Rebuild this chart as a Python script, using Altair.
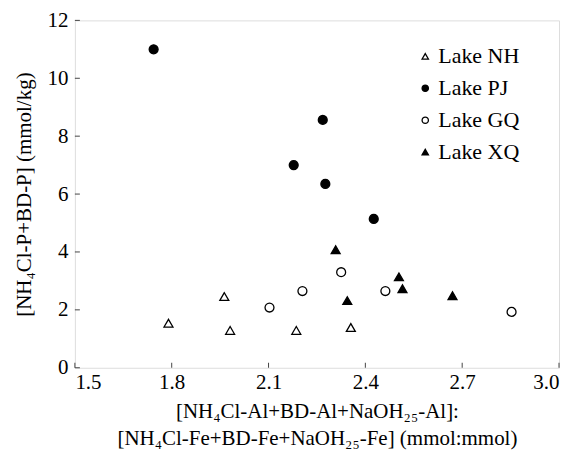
import altair as alt
import pandas as pd

lakes = ["Lake NH", "Lake PJ", "Lake GQ", "Lake XQ"]

nh_x = [1.790, 1.963, 1.981, 2.186, 2.355]
nh_y = [1.54, 2.46, 1.29, 1.29, 1.39]

pj_x = [1.744, 2.268, 2.178, 2.276, 2.426]
pj_y = [11.0, 8.56, 7.00, 6.35, 5.14]

gq_x = [2.103, 2.205, 2.325, 2.462, 2.853]
gq_y = [2.08, 2.65, 3.30, 2.65, 1.93]

xq_x = [2.308, 2.344, 2.504, 2.515, 2.670]
xq_y = [4.08, 2.32, 3.14, 2.73, 2.49]

x_ticks = [1.5, 1.8, 2.1, 2.4, 2.7, 3.0]
y_ticks = [0, 2, 4, 6, 8, 10, 12]

rows = []
for name, xs, ys in zip(lakes, [nh_x, pj_x, gq_x, xq_x], [nh_y, pj_y, gq_y, xq_y]):
    for a, b in zip(xs, ys):
        rows.append({"lake": name, "x": a, "y": b})
df = pd.DataFrame(rows)

W, H = 485, 348
FONT = "Liberation Serif"

xscale = alt.Scale(domain=[1.5, 3.0], nice=False, zero=False)
yscale = alt.Scale(domain=[0, 12], nice=False)

leg = alt.Legend(title=None, orient="none", legendX=340, legendY=25,
                 labelFont=FONT, labelFontSize=22, labelColor="black",
                 symbolSize=40, symbolStrokeWidth=1.3, symbolStrokeColor="black",
                 rowPadding=10, labelOffset=2)

points = alt.Chart(df).mark_point(filled=True, size=80, strokeWidth=1.3, opacity=1).encode(
    x=alt.X("x:Q", scale=xscale,
            axis=alt.Axis(values=x_ticks, format=".1f", ticks=False, grid=False, domain=False,
                          labelFontSize=21, labelPadding=4, labelFont=FONT, labelColor="black",
                          title=["[NH₄Cl-Al+BD-Al+NaOH₂₅-Al]:", "[NH₄Cl-Fe+BD-Fe+NaOH₂₅-Fe] (mmol:mmol)"],
                          titleFontSize=21, titleFont=FONT, titleFontWeight="normal", titleColor="black",
                          titleLineHeight=27, titlePadding=8)),
    y=alt.Y("y:Q", scale=yscale,
            axis=alt.Axis(values=y_ticks, ticks=False, grid=False, domain=False,
                          labelFontSize=21, labelPadding=7, labelFont=FONT, labelColor="black",
                          title="[NH₄Cl-P+BD-P] (mmol/kg)",
                          titleFontSize=21, titleFont=FONT, titleFontWeight="normal", titleColor="black",
                          titlePadding=12)),
    shape=alt.Shape("lake:N", scale=alt.Scale(domain=lakes, range=["triangle-up", "circle", "circle", "triangle-up"]),
                    legend=leg),
    fill=alt.Fill("lake:N", scale=alt.Scale(domain=lakes, range=["white", "black", "white", "black"]),
                  legend=leg),
    stroke=alt.Stroke("lake:N", scale=alt.Scale(domain=lakes, range=["black", "black", "black", "black"]),
                      legend=leg),
)

xt = pd.DataFrame({"t": x_ticks})
xtick_rules = alt.Chart(xt).mark_rule(color="#444444", strokeWidth=1).encode(
    x=alt.X("t:Q", scale=xscale),
    y=alt.value(H),
    y2=alt.value(H - 5),
)
yt = pd.DataFrame({"t": y_ticks})
ytick_rules = alt.Chart(yt).mark_rule(color="#444444", strokeWidth=1).encode(
    y=alt.Y("t:Q", scale=yscale),
    x=alt.value(0),
    x2=alt.value(5),
)

chart = alt.layer(xtick_rules, ytick_rules, points).properties(
    width=W, height=H,
    autosize=alt.AutoSizeParams(type="none"),
    padding={"left": 67, "top": 12, "right": 5, "bottom": 86},
).configure_view(stroke="#444444", strokeWidth=1.3).configure(background="white", font=FONT)

chart.save("out.html", embed_options={"renderer": "svg", "actions": False})
